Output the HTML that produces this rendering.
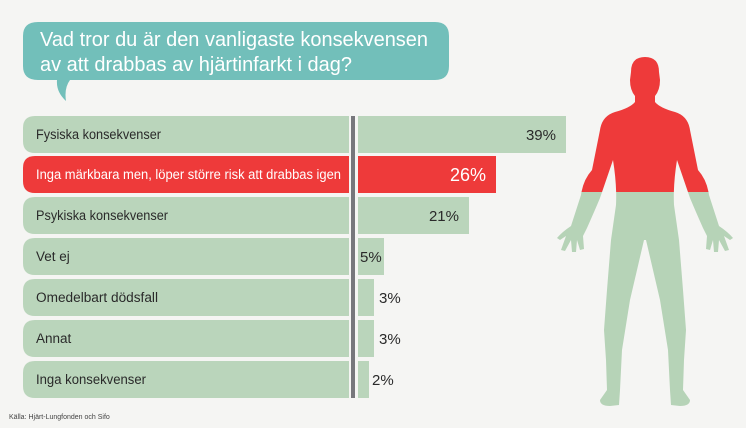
<!DOCTYPE html>
<html><head><meta charset="utf-8"><style>
body{margin:0;background:#f5f5f3;}
svg{display:block;font-family:"Liberation Sans",sans-serif;}
</style></head><body>
<svg width="746" height="428" viewBox="0 0 746 428">
<rect width="746" height="428" fill="#f5f5f3"/>
<path d="M38,22 H435 Q449,22 449,36 V66 Q449,80 435,80 H70 Q64,88 66,101 Q56,92 57,80 H38 Q23,80 23,66 V36 Q23,22 38,22 Z" fill="#72bfba"/>
<text x="40" y="46" font-size="20" fill="#fff" textLength="388" lengthAdjust="spacingAndGlyphs">Vad tror du är den vanligaste konsekvensen</text>
<text x="40" y="71" font-size="20" fill="#fff" textLength="312" lengthAdjust="spacingAndGlyphs">av att drabbas av hjärtinfarkt i dag?</text>
<g font-size="13.5" fill="#2a2a2a">
<path d="M35,116 H349 V153 H35 Q23,153 23,141 V128 Q23,116 35,116Z" fill="#bad5bb"/>
<path d="M35,156 H349 V193 H35 Q23,193 23,181 V168 Q23,156 35,156Z" fill="#ee3a3a"/>
<path d="M35,197 H349 V234 H35 Q23,234 23,222 V209 Q23,197 35,197Z" fill="#bad5bb"/>
<path d="M35,238 H349 V275 H35 Q23,275 23,263 V250 Q23,238 35,238Z" fill="#bad5bb"/>
<path d="M35,279 H349 V316 H35 Q23,316 23,304 V291 Q23,279 35,279Z" fill="#bad5bb"/>
<path d="M35,320 H349 V357 H35 Q23,357 23,345 V332 Q23,320 35,320Z" fill="#bad5bb"/>
<path d="M35,361 H349 V398 H35 Q23,398 23,386 V373 Q23,361 35,361Z" fill="#bad5bb"/>
<text x="36" y="139" textLength="125" lengthAdjust="spacingAndGlyphs">Fysiska konsekvenser</text>
<text x="36" y="179" fill="#fff" textLength="305" lengthAdjust="spacingAndGlyphs">Inga märkbara men, löper större risk att drabbas igen</text>
<text x="36" y="220" textLength="132" lengthAdjust="spacingAndGlyphs">Psykiska konsekvenser</text>
<text x="36" y="261">Vet ej</text>
<text x="36" y="302" textLength="122" lengthAdjust="spacingAndGlyphs">Omedelbart dödsfall</text>
<text x="36" y="343">Annat</text>
<text x="36" y="384" textLength="110" lengthAdjust="spacingAndGlyphs">Inga konsekvenser</text>
<rect x="351" y="116" width="4" height="282" fill="#77777c"/>
<rect x="358" y="116" width="208" height="37" fill="#bad5bb"/>
<rect x="358" y="156" width="138" height="37" fill="#ee3a3a"/>
<rect x="358" y="197" width="111" height="37" fill="#bad5bb"/>
<rect x="358" y="238" width="26" height="37" fill="#bad5bb"/>
<rect x="358" y="279" width="16" height="37" fill="#bad5bb"/>
<rect x="358" y="320" width="16" height="37" fill="#bad5bb"/>
<rect x="358" y="361" width="11" height="37" fill="#bad5bb"/>
<g font-size="15">
<text x="556" y="140" text-anchor="end">39%</text>
<text x="486" y="181" text-anchor="end" fill="#fff" font-size="18">26%</text>
<text x="459" y="221" text-anchor="end">21%</text>
<text x="360" y="262">5%</text>
<text x="379" y="303">3%</text>
<text x="379" y="344">3%</text>
<text x="372" y="385">2%</text>
</g>
</g>
<text x="9" y="419" font-size="7" fill="#444">Källa: Hjärt-Lungfonden och Sifo</text>
<defs>
<clipPath id="top"><rect x="540" y="40" width="206" height="152"/></clipPath>
<clipPath id="bot"><rect x="540" y="192" width="206" height="236"/></clipPath>
<path id="body" d="M645,57 Q659,57 659,72 L660,80 Q660,90 655,96 L655,102 Q660,108 675,112 Q688,116 690,130 L698,170 Q707,180 709,195 L719,226 Q728,232 733,238 L730,240 L724,236 L729,250 L725,251 L719,240 L718,252 L714,252 L713,240 L710,250 L706,249 L707,236 L703,228 Q695,210 690,198 L677,160 Q673,185 674,205 L679,240 L683,290 L686,330 L684,360 L683,390 L690,400 Q690,406 680,406 L671,405 L670,390 L668,350 L660,300 L646,240 L644,240 L630,300 L622,350 L620,390 L619,405 L610,406 Q600,406 600,400 L607,390 L606,360 L604,330 L607,290 L611,240 L616,205 Q617,185 613,160 L600,198 Q595,210 587,228 L583,236 L584,249 L580,250 L577,240 L576,252 L572,252 L571,240 L565,251 L561,250 L566,236 L560,240 L557,238 Q562,232 571,226 L581,195 Q583,180 592,170 L600,130 Q602,116 615,112 Q630,108 635,102 L635,96 Q630,90 630,80 L631,72 Q631,57 645,57 Z"/>
</defs>
<use href="#body" fill="#ee3a3a" clip-path="url(#top)"/>
<use href="#body" fill="#b6d3b7" clip-path="url(#bot)"/>
</svg>
</body></html>
